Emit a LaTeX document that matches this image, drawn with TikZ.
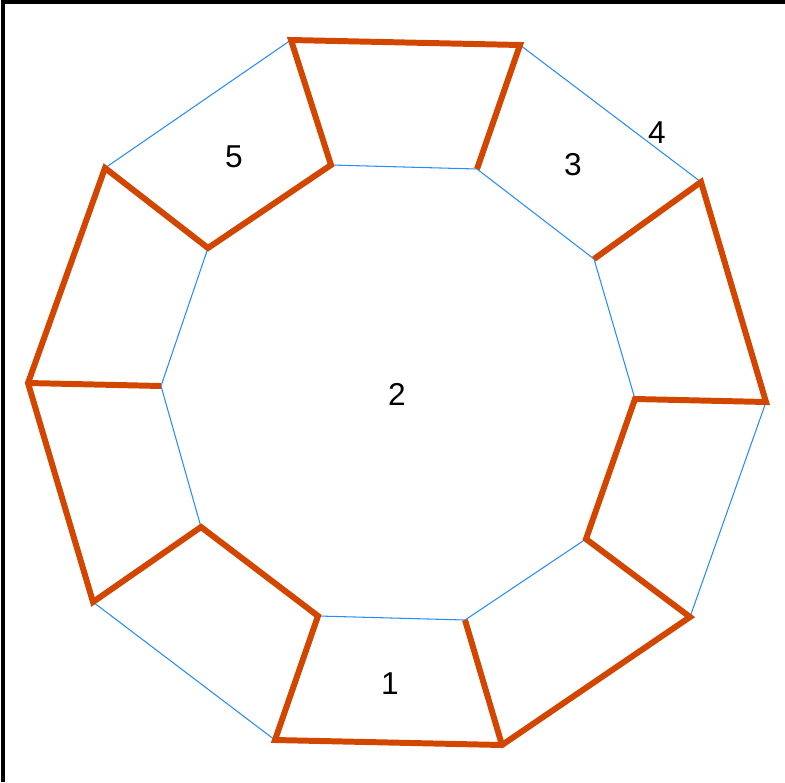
\documentclass[tikz,border=0pt]{standalone}
\usepackage{fontspec}
\setmainfont{Liberation Sans}
\usepackage{tikz}

\definecolor{rimorange}{RGB}{210,70,0}
\definecolor{rimblue}{RGB}{40,140,250}

\begin{document}
\begin{tikzpicture}
        [
        x=0.02cm, y=-0.02cm,
        thickedge/.style={draw=rimorange, line width=3.4pt, line join=miter},
        thinedge/.style={draw=rimblue, line width=0.6pt},
        frame/.style={draw=black, line width=2.2pt},
        region/.style={font=\fontsize{18}{21}\selectfont, inner sep=0pt}
        ]

        \useasboundingbox (0,0) rectangle (785,782);

        % outer ring
        \coordinate (o1) at (291,40);
        \coordinate (o2) at (520,45);
        \coordinate (o3) at (701,182);
        \coordinate (o4) at (766,402);
        \coordinate (o5) at (690,617);
        \coordinate (o6) at (502,745);
        \coordinate (o7) at (275,740);
        \coordinate (o8) at (93,602);
        \coordinate (o9) at (28,383);
        \coordinate (o10) at (105,168);

        % inner ring
        \coordinate (i1) at (331,165);
        \coordinate (i2) at (477,169);
        \coordinate (i3) at (594,259);
        \coordinate (i4) at (635,399);
        \coordinate (i5) at (586,539);
        \coordinate (i6) at (465,620);
        \coordinate (i7) at (318,616);
        \coordinate (i8) at (201,527);
        \coordinate (i9) at (161,386);
        \coordinate (i10) at (208,248);

        \node[region] (lbl1) at (390,684) {1};
        \node[region] (lbl2) at (397,394) {2};
        \node[region] (lbl3) at (573,165) {3};
        \node[region] (lbl4) at (657,133) {4};
        \node[region] (lbl5) at (234,157) {5};

        % thin blue edges
        \draw[thinedge] (o1) -- (o10);
        \draw[thinedge] (o2) -- (o3);
        \draw[thinedge] (i1) -- (i2) -- (i3) -- (i4);
        \draw[thinedge] (i10) -- (i9) -- (i8);
        \draw[thinedge] (o8) -- (o7);
        \draw[thinedge] (i7) -- (i6) -- (i5);
        \draw[thinedge] (o5) -- (o4);

        % thick orange edges
        \draw[thickedge] (i2) -- (o2) -- (o1) -- (i1) -- (i10) -- (o10) -- (o9)
            -- (o8) -- (i8) -- (i7) -- (o7) -- (o6) -- (o5) -- (i5) -- (i4)
            -- (o4) -- (o3) -- (i3);
        \draw[thickedge] (o9) -- (i9);
        \draw[thickedge] (o6) -- (i6);

        % frame
        \draw[frame] (3,782) -- (3,2) -- (785,2);

    \end{tikzpicture}
\end{document}
